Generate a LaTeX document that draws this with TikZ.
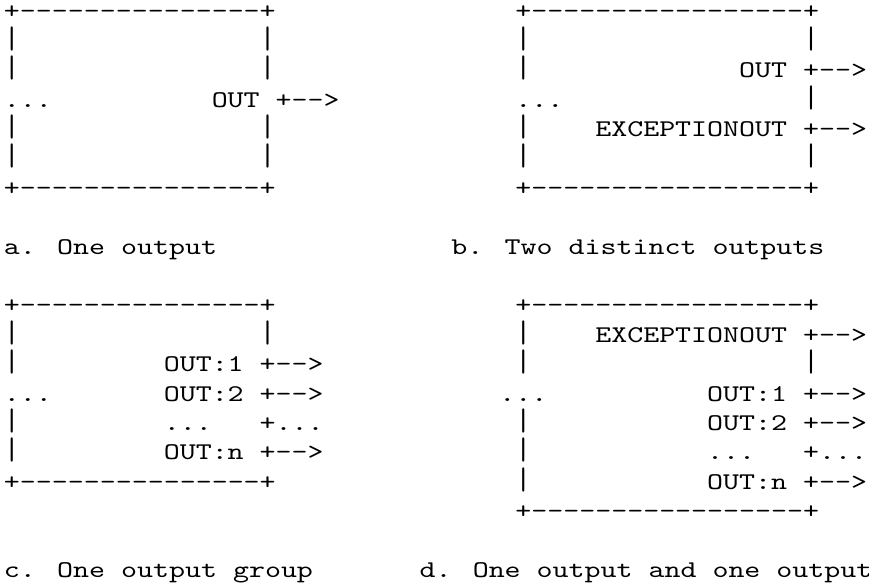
\documentclass[tikz,border=0pt]{standalone}
\usepackage{fontspec}
\newfontfamily\monofam{lmmono10-regular.otf}[FakeStretch=1.27, Ligatures=ResetAll]
\usepackage{tikz}

\newcommand{\asciifont}{\monofam\fontsize{24pt}{29.43pt}\selectfont}
\tikzset{asc/.style={anchor=base west, inner sep=0pt, outer sep=0pt, text height=0.6em, text depth=0.1em, font=\asciifont},
	bar/.style={asc, yscale=1.3, transform shape}}

\begin{document}
\begin{tikzpicture}[x=16pt, y=-29.43pt]
		\useasboundingbox (-4pt,-10.43pt) rectangle (866pt,-595.43pt);
		% a. one output
		\node(ATOP) at (0,1)[asc]{+---------------+};
		\foreach \r in {2,3,5,6} {
			\node(AL\r) at (0,\r)[bar]{|};
			\node(AR\r) at (16,\r)[bar]{|};
		}
		\node(AIN) at (0,4)[asc]{...};
		\node(AOUT) at (13,4)[asc]{OUT +-->};
		\node(ABOT) at (0,7)[asc]{+---------------+};
		\node(ACAP) at (0,9)[asc]{a. One output};
		% b. two distinct outputs
		\node(BTOP) at (32,1)[asc]{+-----------------+};
		\foreach \r in {2,3,5,6} {
			\node(BL\r) at (32,\r)[bar]{|};
		}
		\foreach \r in {2,4,6} {
			\node(BR\r) at (50,\r)[bar]{|};
		}
		\node(BIN) at (32,4)[asc]{...};
		\node(BOUT) at (46,3)[asc]{OUT +-->};
		\node(BEXC) at (37,5)[asc]{EXCEPTIONOUT +-->};
		\node(BBOT) at (32,7)[asc]{+-----------------+};
		\node(BCAP) at (28,9)[asc]{b. Two distinct outputs};
		% c. one output group
		\node(CTOP) at (0,11)[asc]{+---------------+};
		\foreach \r in {12,13,15,16} {
			\node(CL\r) at (0,\r)[bar]{|};
		}
		\node(CR12) at (16,12)[bar]{|};
		\node(CIN) at (0,14)[asc]{...};
		\node(COUT1) at (10,13)[asc]{OUT:1 +-->};
		\node(COUT2) at (10,14)[asc]{OUT:2 +-->};
		\node(CDOTS) at (10,15)[asc]{...};
		\node(CMORE) at (16,15)[asc]{+...};
		\node(COUTN) at (10,16)[asc]{OUT:n +-->};
		\node(CBOT) at (0,17)[asc]{+---------------+};
		\node(CCAP) at (0,20)[asc]{c. One output group};
		% d. one output and one output group
		\node(DTOP) at (32,11)[asc]{+-----------------+};
		\foreach \r in {12,13,15,16,17} {
			\node(DL\r) at (32,\r)[bar]{|};
		}
		\node(DR13) at (50,13)[bar]{|};
		\node(DIN) at (31,14)[asc]{...};
		\node(DEXC) at (37,12)[asc]{EXCEPTIONOUT +-->};
		\node(DOUT1) at (44,14)[asc]{OUT:1 +-->};
		\node(DOUT2) at (44,15)[asc]{OUT:2 +-->};
		\node(DDOTS) at (44,16)[asc]{...};
		\node(DMORE) at (50,16)[asc]{+...};
		\node(DOUTN) at (44,17)[asc]{OUT:n +-->};
		\node(DBOT) at (32,18)[asc]{+-----------------+};
		\node(DCAP) at (26,20)[asc]{d. One output and one output};
	\end{tikzpicture}
\end{document}
